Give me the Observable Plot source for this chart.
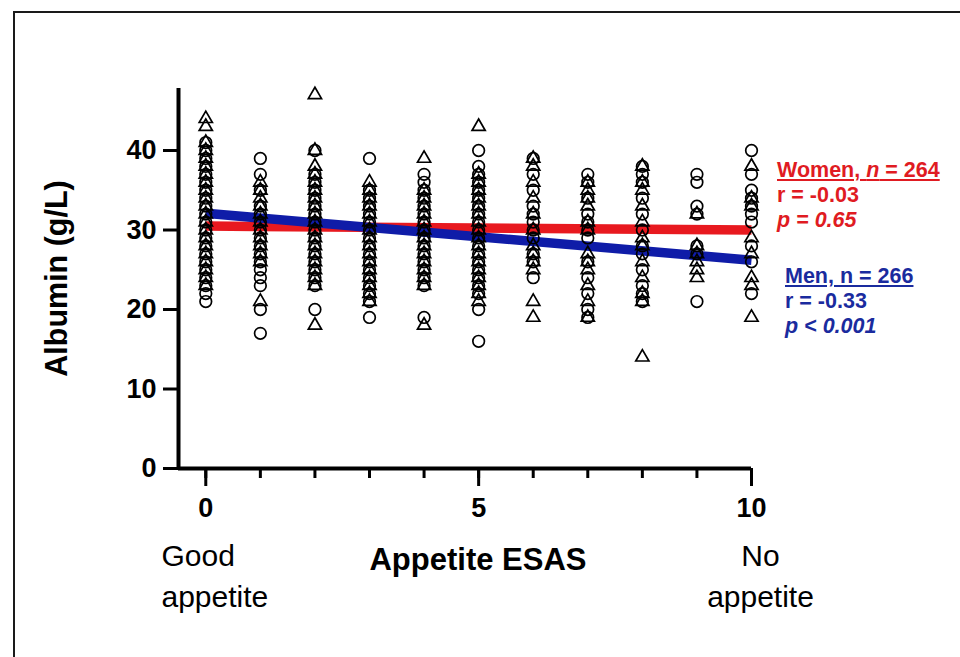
<!DOCTYPE html>
<html>
<head>
<meta charset="utf-8">
<script src="https://cdn.jsdelivr.net/npm/d3@7"></script>
<script src="https://cdn.jsdelivr.net/npm/@observablehq/plot@0.6"></script>
<style>
  html, body { margin: 0; padding: 0; background: #fff; }
  body { font-family: "Liberation Sans", Arial, sans-serif; }
  #wrap { position: relative; width: 960px; height: 657px; overflow: hidden; }
  #border { position: absolute; left: 13px; top: 11px; right: -10px; bottom: -10px;
            border-left: 2px solid #1a1a1a; border-top: 2px solid #1a1a1a; }
  .stat { position: absolute; font-weight: bold; font-size: 21.5px; line-height: 25px; white-space: nowrap; }
  .stat div { height: 25px; }
  .women { color: #e01b22; left: 777px; top: 158px; }
  .men { color: #1a2b9e; left: 785px; top: 264px; }
  .u { text-decoration: underline; text-decoration-thickness: 1.5px; text-underline-offset: 2px; }
</style>
</head>
<body>
<div id="wrap">
  <div id="border"></div>
  <div id="chart"></div>
  <div class="stat women">
    <div class="u">Women, <i>n</i> = 264</div>
    <div>r = -0.03</div>
    <div><i>p = 0.65</i></div>
  </div>
  <div class="stat men">
    <div class="u">Men, n = 266</div>
    <div>r = -0.33</div>
    <div><i>p &lt; 0.001</i></div>
  </div>
</div>
<script>
// Appetite ESAS score (0 = good appetite, 10 = no appetite)
const appetiteScores = [0, 1, 2, 3, 4, 5, 6, 7, 8, 9, 10];

// Albumin (g/L) per appetite score — women (circles)
const womenAlbumin = [
  [21,22,23,24,25,26,27,28,29,30,31,32,33,34,35,36,37,38,39,40,41],
  [39,37,35,33,32,31,30,29,28,27,26,25,24,23,20,17],
  [40,37,36,35,34,33,32,31,30,29,28,27,26,25,24,23,20],
  [39,35,34,33,32,31,30,29,28,27,26,25,24,23,22,21,19],
  [37,36,35,34,33,32,31,30,29,28,27,26,25,24,23,19],
  [40,38,37,36,35,34,33,32,31,30,29,28,27,26,25,24,23,22,20,16],
  [39,37,35,33,32,31,30,29,27,26,24],
  [37,36,34,32,31,30,29,26,24,22,20,19],
  [38,37,36,34,32,30,28,27,25,23,22,21],
  [37,36,33,32,28,27,21],
  [40,37,35,34,33,32,31,28,26,22]
];

// Albumin (g/L) per appetite score — men (triangles)
const menAlbumin = [
  [44,43,41,40,39,38,37,36,35,34,33,32,31,30,29,28,27,26,25,24,23],
  [36,35,34,33,32,31,30,29,28,27,26,21],
  [47,40,38,37,36,35,34,33,32,31,30,29,28,27,26,25,24,23,18],
  [36,35,34,33,32,31,30,29,28,27,26,25,24,23,22,21],
  [39,35,34,33,32,31,30,29,28,27,26,25,24,23,18],
  [43,37,36,35,34,33,32,31,30,29,28,27,26,25,24,23,22,21],
  [39,38,36,34,32,30,28,27,26,25,21,19],
  [36,35,34,33,31,30,27,26,25,23,21,19],
  [38,36,35,33,31,29,28,26,24,22,21,14],
  [32,28,27,26,25,24],
  [38,34,33,29,27,24,23,19]
];

// Regression line endpoints (appetite 0 and 10)
const fitX = [0, 10];
const womenFitY = [30.5, 30.0];
const menFitY = [32.1, 26.2];

// Axis ticks
const yTicks = [0, 10, 20, 30, 40];
const xMinorTicks = [0, 1, 2, 3, 4, 5, 6, 7, 8, 9, 10];
const xMajorTicks = [0, 5, 10];

const red = "#e8191f";
const blue = "#0f1ca8";

const women = appetiteScores.flatMap((s, i) => womenAlbumin[i].map(v => ({x: s, y: v})));
const men = appetiteScores.flatMap((s, i) => menAlbumin[i].map(v => ({x: s, y: v})));
const womenFit = fitX.map((x, i) => ({x, y: womenFitY[i]}));
const menFit = fitX.map((x, i) => ({x, y: menFitY[i]}));

const chart = Plot.plot({
  width: 960,
  height: 657,
  marginLeft: 178,
  marginRight: 209,
  marginTop: 88,
  marginBottom: 189,
  x: {domain: [-0.5, 10]},
  y: {domain: [0, 47.8]},
  style: {fontFamily: "'Liberation Sans', Arial, sans-serif", background: "transparent", overflow: "visible", color: "black"},
  marks: [
    Plot.line(womenFit, {x: "x", y: "y", stroke: red, strokeWidth: 9.5, strokeLinecap: "butt"}),
    Plot.line(menFit, {x: "x", y: "y", stroke: blue, strokeWidth: 9.5, strokeLinecap: "butt"}),
    Plot.dot(women, {x: "x", y: "y", symbol: "circle", r: 5.8, fill: "none", stroke: "black", strokeWidth: 1.7}),
    Plot.dot(men, {x: "x", y: "y", symbol: "triangle", r: 4.9, fill: "none", stroke: "black", strokeWidth: 1.7}),
    Plot.ruleX([-0.5], {stroke: "black", strokeWidth: 4}),
    Plot.ruleY([0], {stroke: "black", strokeWidth: 4}),
    Plot.axisY({ticks: yTicks, tickSize: 15, tickPadding: 7, strokeWidth: 3, fontSize: 27, fontWeight: "bold", label: null}),
    Plot.axisX({ticks: xMinorTicks, tickSize: 10, strokeWidth: 3, text: null, label: null, tickFormat: null}),
    Plot.axisX({ticks: xMajorTicks, tickSize: 18, tickPadding: 11, strokeWidth: 3, fontSize: 27, fontWeight: "bold", label: null}),
    Plot.text(["Albumin (g/L)"], {frameAnchor: "left", rotate: -90, dx: -121, fontSize: 30.5, fontWeight: "bold", lineAnchor: "middle", textAnchor: "middle"}),
    Plot.text(["Appetite ESAS"], {frameAnchor: "bottom", dx: 13, dy: 92, fontSize: 31, fontWeight: "bold", lineAnchor: "middle"}),
    Plot.text(["Good\nappetite"], {frameAnchor: "bottom-left", dx: -17, dy: 105, textAnchor: "start", lineAnchor: "middle", fontSize: 30, lineHeight: 1.37}),
    Plot.text(["No\nappetite"], {frameAnchor: "bottom-right", dx: 9, dy: 105, textAnchor: "middle", lineAnchor: "middle", fontSize: 30, lineHeight: 1.37})
  ]
});
document.getElementById("chart").appendChild(chart);
</script>
</body>
</html>
